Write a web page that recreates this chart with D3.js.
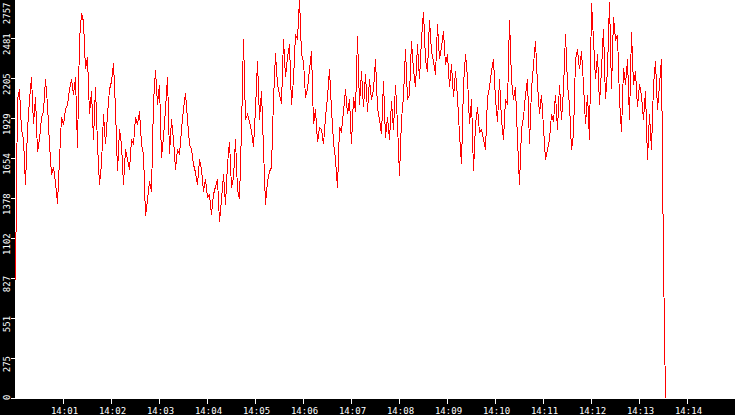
<!DOCTYPE html>
<html>
<head>
<meta charset="utf-8">
<script src="https://cdnjs.cloudflare.com/ajax/libs/d3/7.8.5/d3.min.js"></script>
<style>
  html, body { margin: 0; padding: 0; background: #000; overflow: hidden; }
  svg { display: block; }
</style>
</head>
<body>
<div id="chart"></div>
<script>
// one sample every 2.5 s starting at 14:00:00
const startTime = "14:00:00";
const stepSeconds = 2.5;

const values = [
  820, 2061, 2130, 1854, 1785, 1475, 1854, 2061, 2213, 1889, 2075, 1702, 1785, 1937, 1978, 2199, 2026, 1751, 1544, 1592, 1489, 1344,
  1647, 1937, 1889, 1992, 2026, 2130, 2199, 2095, 2213, 1730, 2474, 2654, 2599, 2268, 2350, 1958, 2116, 1785, 2144, 1751,
  1475, 1613, 1958, 1751, 1958, 2130, 2185, 2309, 1992, 1565, 1854, 1751, 1475, 1716, 1647, 1578, 1785, 1751, 1937, 1889, 1978, 1751, 1682,
  1255, 1372, 1496, 1427, 2040, 2261, 2026, 2164, 1661, 1799, 1992, 2219, 1682, 1923, 1785, 1578, 1716, 1682, 1854, 1992, 2102, 1923, 1751, 1716, 1613, 1558, 1475,
  1647, 1578, 1427, 1509, 1385, 1406, 1268, 1406, 1461, 1509, 1220, 1372, 1544, 1337, 1613, 1771, 1454, 1523,
  1785, 1441, 1372, 1854, 2481, 1923, 1958, 1909, 1840, 1737, 1992, 2323, 1923, 2116, 1716, 1337, 1496, 1565, 1592, 2061, 2378, 2164, 2095, 2033, 2481, 2213, 2350, 2440, 2026, 2199, 2509, 2474,
  2750, 2371, 2323, 2075, 2130, 2268, 2392, 1889, 1992, 1765, 1868,
  1854, 1751, 1937, 2075, 2268, 1992, 1765, 1647, 1454, 1868, 1840, 1978, 2130, 1958, 2061, 1751, 2075, 1978, 2495, 2026, 2254, 2006, 2233, 1978, 2199, 2061, 2130, 2337, 2006, 1923, 1820, 2185, 1799, 1937, 1785, 2047, 1854, 2164,
  1889, 1537, 1923, 2082, 2406, 2061, 2095, 2461, 2268, 2144, 2440, 2199, 2474, 2667, 2337, 2254, 2612, 2392, 2323, 2233, 2578, 2337, 2419, 2530, 2302, 2371,
  2144, 2302, 2075, 2254, 2075, 1820, 1613, 2164, 2371, 2213, 1889, 2061, 1565, 1889, 2006, 1833, 1854, 1785, 1716, 2075, 2144, 2254, 2337, 2061, 1909,
  2199, 1923, 1785, 2061, 2026, 2612, 2199, 2061, 2144, 1785, 1475, 1854, 1937, 2095, 2199, 1751, 2130, 2302, 2461, 2164, 1958, 2095, 1868, 1647, 1716,
  1785, 1958, 1909, 2095, 1854, 2164, 1923, 2130, 2509, 2164, 2026, 1716, 1820, 2337, 2406, 2268, 2392, 2164, 1889, 2095, 1785, 2729, 2474, 2199, 2371,
  2026, 2268, 2550, 2061, 2268, 2736, 2130, 2626, 2474, 2502, 2061, 1840, 2281, 2164, 2337, 1923, 2523, 2164, 2254, 2006, 2164, 2088, 1923, 2116, 1647, 1958, 1716, 2164, 2323, 1992, 2164, 2343, 937, 0
];

const yTicks = [0, 275, 551, 827, 1102, 1378, 1654, 1929, 2205, 2481, 2757];
const xTickLabels = ["14:01", "14:02", "14:03", "14:04", "14:05", "14:06", "14:07",
  "14:08", "14:09", "14:10", "14:11", "14:12", "14:13", "14:14"];

document.addEventListener("DOMContentLoaded", function () {
  const width = 735;
  const height = 415;
  const margin = { top: 0, right: 0, bottom: 16, left: 15 };
  const innerWidth = width - margin.left - margin.right;
  const innerHeight = height - margin.top - margin.bottom;
  const font = "'DejaVu Sans Mono', monospace";

  const parseTime = d3.timeParse("%H:%M:%S");
  const parseTick = d3.timeParse("%H:%M");
  const t0 = parseTime(startTime);

  const data = values.map((v, i) => ({
    time: new Date(t0.getTime() + i * stepSeconds * 1000),
    value: v,
  }));

  const svg = d3.select("#chart")
    .append("svg")
    .attr("width", width)
    .attr("height", height)
    .style("background", "#000");

  const g = svg.append("g")
    .attr("transform", `translate(${margin.left},${margin.top})`);

  const xScale = d3.scaleTime()
    .domain([t0, d3.timeMinute.offset(t0, 15)])
    .range([0.5, innerWidth + 0.5]);

  const yScale = d3.scaleLinear()
    .domain([0, d3.max(yTicks)])
    .range([innerHeight - 0.5, -1.5]);

  // white plot area
  g.append("rect")
    .attr("x", 0)
    .attr("y", 0)
    .attr("width", innerWidth)
    .attr("height", innerHeight)
    .attr("fill", "#fff");

  const lineGenerator = d3.line()
    .x((d) => xScale(d.time))
    .y((d) => yScale(d.value));

  g.append("path")
    .datum(data)
    .attr("fill", "none")
    .attr("stroke", "#ff0000")
    .attr("stroke-width", 1)
    .attr("shape-rendering", "crispEdges")
    .attr("d", lineGenerator);

  // y axis, labels rotated and kept inside the plot height
  const yAxis = g.append("g")
    .call(d3.axisLeft(yScale).tickValues(yTicks).tickSize(4).offset(0).tickFormat(d3.format("d")));

  yAxis.select(".domain").remove();
  yAxis.selectAll(".tick line")
    .attr("stroke", "#fff")
    .attr("shape-rendering", "crispEdges");
  yAxis.selectAll(".tick text")
    .attr("x", null)
    .attr("y", null)
    .attr("dy", null)
    .attr("fill", "#fff")
    .style("font-family", font)
    .style("font-size", "9px")
    .attr("text-anchor", "middle")
    .attr("transform", function (d) {
      const y = yScale(d);
      const half = this.getComputedTextLength() / 2;
      const c = Math.max(2.5 + half, Math.min(innerHeight + 1 - half, y + 5.5));
      return `translate(-5.5,${c - y}) rotate(-90)`;
    });

  // x axis
  const xAxis = g.append("g")
    .attr("transform", `translate(0,${innerHeight})`)
    .call(d3.axisBottom(xScale)
      .tickValues(xTickLabels.map(parseTick))
      .tickSize(5)
      .offset(0)
      .tickFormat((d, i) => xTickLabels[i]));

  xAxis.select(".domain").remove();
  xAxis.selectAll(".tick line")
    .attr("stroke", "#fff")
    .attr("shape-rendering", "crispEdges");
  xAxis.selectAll(".tick text")
    .attr("y", 15)
    .attr("dx", 1)
    .attr("dy", null)
    .attr("fill", "#fff")
    .style("font-family", font)
    .style("font-size", "9px");
});
</script>
</body>
</html>
